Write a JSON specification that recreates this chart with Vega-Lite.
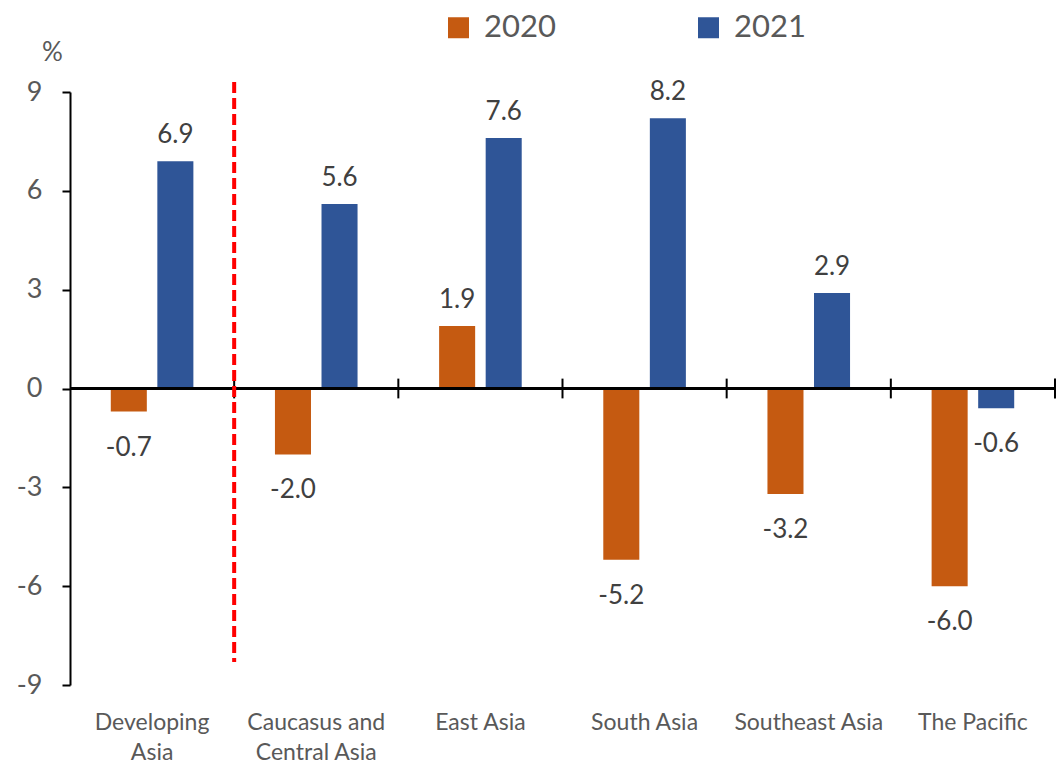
{
  "$schema": "https://vega.github.io/schema/vega-lite/v6.json",
  "autosize": {"type": "none"},
  "width": 985,
  "height": 593,
  "padding": {"left": 70, "top": 92, "right": 1, "bottom": 81},
  "background": "white",
  "config": {
    "font": "Lato",
    "view": {"stroke": null},
    "locale": {
      "number": {
        "decimal": ".",
        "thousands": ",",
        "grouping": [3],
        "currency": ["$", ""],
        "minus": "-"
      }
    }
  },
  "data": {
    "values": [
      {"region": "Developing Asia", "year": "2020", "value": -0.7},
      {"region": "Developing Asia", "year": "2021", "value": 6.9},
      {"region": "Caucasus and Central Asia", "year": "2020", "value": -2.0},
      {"region": "Caucasus and Central Asia", "year": "2021", "value": 5.6},
      {"region": "East Asia", "year": "2020", "value": 1.9},
      {"region": "East Asia", "year": "2021", "value": 7.6},
      {"region": "South Asia", "year": "2020", "value": -5.2},
      {"region": "South Asia", "year": "2021", "value": 8.2},
      {"region": "Southeast Asia", "year": "2020", "value": -3.2},
      {"region": "Southeast Asia", "year": "2021", "value": 2.9},
      {"region": "The Pacific", "year": "2020", "value": -6.0},
      {"region": "The Pacific", "year": "2021", "value": -0.6}
    ]
  },
  "layer": [
    {
      "mark": {"type": "bar"},
      "encoding": {
        "x": {
          "field": "region",
          "type": "nominal",
          "sort": null,
          "scale": {"paddingInner": 0, "paddingOuter": 0},
          "axis": {
            "title": null,
            "domain": false,
            "ticks": false,
            "labelAngle": 0,
            "labelFontSize": 23,
            "labelColor": "#595959",
            "labelPadding": 26,
            "labelLineHeight": 30,
            "labelBaseline": "top",
            "labelExpr": "datum.value == 'Developing Asia' ? ['Developing', 'Asia'] : datum.value == 'Caucasus and Central Asia' ? ['Caucasus and', 'Central Asia'] : datum.value"
          }
        },
        "xOffset": {
          "field": "year",
          "type": "nominal",
          "scale": {"paddingInner": 0.226, "paddingOuter": 0.876}
        },
        "y": {
          "field": "value",
          "type": "quantitative",
          "scale": {"domain": [-9, 9], "nice": false, "zero": false},
          "axis": {
            "values": [-9, -6, -3, 0, 3, 6, 9],
            "grid": false,
            "domainColor": "black",
            "domainWidth": 2,
            "tickColor": "black",
            "tickWidth": 2,
            "tickSize": 8,
            "labelFontSize": 27,
            "labelColor": "#595959",
            "labelPadding": 20,
            "title": "%",
            "titleAngle": 0,
            "titleFontSize": 26,
            "titleFontWeight": "normal",
            "titleColor": "#595959",
            "titleAlign": "center",
            "titleBaseline": "alphabetic",
            "titleX": -18,
            "titleY": -32
          }
        },
        "color": {
          "field": "year",
          "type": "nominal",
          "scale": {"domain": ["2020", "2021"], "range": ["#C55A11", "#2F5597"]},
          "legend": {
            "title": null,
            "orient": "none",
            "direction": "horizontal",
            "legendX": 373,
            "legendY": -80,
            "symbolType": "square",
            "symbolSize": 441,
            "symbolStrokeWidth": 0,
            "labelFontSize": 31,
            "labelColor": "#595959",
            "labelOffset": 10,
            "columnPadding": 137
          }
        }
      }
    },
    {
      "transform": [{"filter": "datum.value >= 0"}],
      "mark": {"type": "text", "baseline": "alphabetic", "dy": -18, "fontSize": 26, "color": "#404040"},
      "encoding": {
        "x": {"field": "region", "type": "nominal", "sort": null},
        "xOffset": {"field": "year", "type": "nominal"},
        "y": {"field": "value", "type": "quantitative"},
        "text": {"field": "value", "type": "quantitative", "format": ".1f"}
      }
    },
    {
      "transform": [{"filter": "datum.value < 0"}],
      "mark": {"type": "text", "baseline": "alphabetic", "dy": 44, "fontSize": 26, "color": "#404040"},
      "encoding": {
        "x": {"field": "region", "type": "nominal", "sort": null},
        "xOffset": {"field": "year", "type": "nominal"},
        "y": {"field": "value", "type": "quantitative"},
        "text": {"field": "value", "type": "quantitative", "format": ".1f"}
      }
    },
    {
      "mark": {"type": "rule", "color": "black", "strokeWidth": 2},
      "encoding": {
        "y": {"datum": 0}
      }
    },
    {
      "transform": [{"filter": "datum.year == '2020'"}],
      "mark": {"type": "rule", "color": "black", "strokeWidth": 2},
      "encoding": {
        "x": {"field": "region", "type": "nominal", "sort": null, "bandPosition": 1},
        "y": {"datum": -0.3},
        "y2": {"datum": 0.3}
      }
    },
    {
      "transform": [{"filter": "datum.year == '2020' && datum.region == 'Developing Asia'"}],
      "mark": {"type": "rule", "color": "#FF0000", "strokeWidth": 4, "strokeDash": [11, 5]},
      "encoding": {
        "x": {"field": "region", "type": "nominal", "sort": null, "bandPosition": 1},
        "y": {"datum": 9.3},
        "y2": {"datum": -8.3}
      }
    }
  ]
}
